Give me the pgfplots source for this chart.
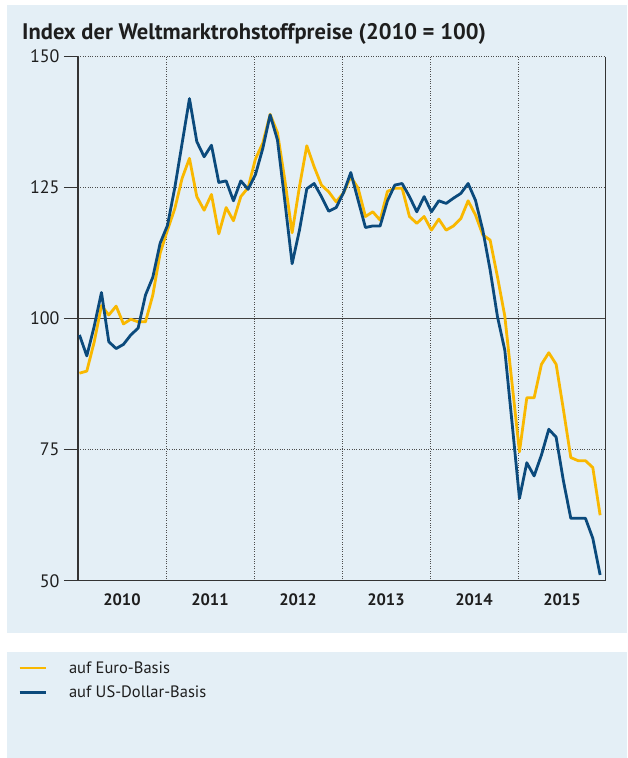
\documentclass[border=0pt]{standalone}
\usepackage{pgfplots}
\pgfplotsset{compat=1.18}
\usepackage{pgfplotstable}
\usepackage{fontspec}
\setmainfont{PT Sans}

\definecolor{bgblue}{HTML}{E4EFF6}
\definecolor{euro}{HTML}{F9B800}
\definecolor{usd}{HTML}{0B4A7C}
\definecolor{txt}{HTML}{1E1E1E}

% monthly index, Jan 2010 = 0
\pgfplotstableread{
m  euro   usd
0  89.6   96.9
1  90.0   92.9
2  95.5   98.5
3  102.5  105.0
4  100.7  95.6
5  102.4  94.3
6  99.0   95.1
7  99.9   96.9
8  99.4   98.2
9  99.4   104.5
10 104.5  107.9
11 112.5  114.4
12 116.9  117.8
13 121.0  125.0
14 126.8  133.5
15 130.6  142.0
16 123.3  133.8
17 120.7  130.9
18 123.7  133.1
19 116.2  126.0
20 121.2  126.3
21 118.7  122.5
22 123.3  126.3
23 125.0  124.7
24 130.5  127.5
25 133.5  132.5
26 139.0  138.9
27 135.5  134.1
28 126.5  122.5
29 116.4  110.5
30 125.2  116.9
31 133.0  124.8
32 129.0  125.8
33 125.5  123.3
34 124.2  120.5
35 122.3  121.2
36 124.0  124.0
37 127.1  127.9
38 124.9  122.6
39 119.5  117.4
40 120.4  117.7
41 118.8  117.7
42 124.3  122.5
43 124.9  125.5
44 124.9  125.8
45 119.5  123.3
46 118.2  120.4
47 119.5  123.3
48 116.9  120.4
49 119.0  122.5
50 116.9  122.0
51 117.7  123.0
52 119.1  123.9
53 122.5  125.8
54 119.8  122.6
55 116.0  116.9
56 115.0  109.3
57 108.0  100.4
58 100.5  94.0
59 87.5   80.0
60 74.6   65.7
61 84.9   72.5
62 84.9   70.0
63 91.3   74.0
64 93.5   78.9
65 91.3   77.4
66 82.6   69.0
67 73.5   61.9
68 72.9   61.9
69 72.9   61.9
70 71.6   58.1
71 62.5   51.1
}\rohstoff

\begin{document}
\begin{tikzpicture}[x=1pt,y=1pt]
\useasboundingbox (0,0) rectangle (627,758);
\fill[bgblue] (7,125.3) rectangle (627,753);
\fill[bgblue] (7,0) rectangle (627,106);
\node[anchor=base west, inner sep=0pt, text=txt,
      font=\fontsize{22.5}{26}\selectfont\bfseries] at (22,718.5)
  {Index der Weltmarktrohstoffpreise (2010 = 100)};

\begin{axis}[
    at={(78pt,177.3pt)}, anchor=south west,
    scale only axis, width=528pt, height=524pt,
    xmin=-0.2, xmax=71.8, ymin=50, ymax=150,
    axis x line*=bottom, axis y line*=left,
    axis line style={line width=1.5pt, black!80},
    tick align=outside, major tick length=14pt,
    ytick={50,75,125,150},
    extra y ticks={100},
    extra y tick style={grid=major,
        major grid style={solid, line width=1.2pt, black!75}},
    ytick style={line width=1.4pt, black!80},
    ymajorgrids=true,
    major grid style={dotted, line width=0.8pt, black!70},
    xtick={5.8,17.8,29.8,41.8,53.8,65.8},
    xticklabels={2010,2011,2012,2013,2014,2015},
    xtick style={draw=none},
    minor xtick={11.8,23.8,35.8,47.8,59.8},
    xminorgrids=true,
    minor grid style={dotted, line width=0.8pt, black!70},
    minor tick length=0pt,
    /pgf/number format/assume math mode=true,
    yticklabel style={font=\fontsize{18}{21}\selectfont, text=txt, xshift=-1pt},
    xticklabel style={font=\fontsize{16.5}{19}\selectfont\bfseries, text=txt, yshift=5pt},
    legend style={at={(axis description cs:-0.1136,-0.150)}, anchor=north west,
        draw=none, fill=none, inner sep=0pt, row sep=7pt,
        font=\fontsize{16.5}{19}\selectfont, text=txt,
        /tikz/every odd column/.style={column sep=20pt}},
    legend cell align=left,
    legend image code/.code={\draw[#1] (0pt,0pt) -- (26pt,0pt);},
]
\addplot[euro, line width=2.8pt, line join=round] table[x=m, y=euro] {\rohstoff};
\addlegendentry{auf Euro-Basis}
\addplot[usd, line width=2.8pt, line join=round] table[x=m, y=usd] {\rohstoff};
\addlegendentry{auf US-Dollar-Basis}
\draw[line width=1.5pt, black!80] (rel axis cs:1,0) -- (rel axis cs:1,1);
\end{axis}
\end{tikzpicture}
\end{document}
